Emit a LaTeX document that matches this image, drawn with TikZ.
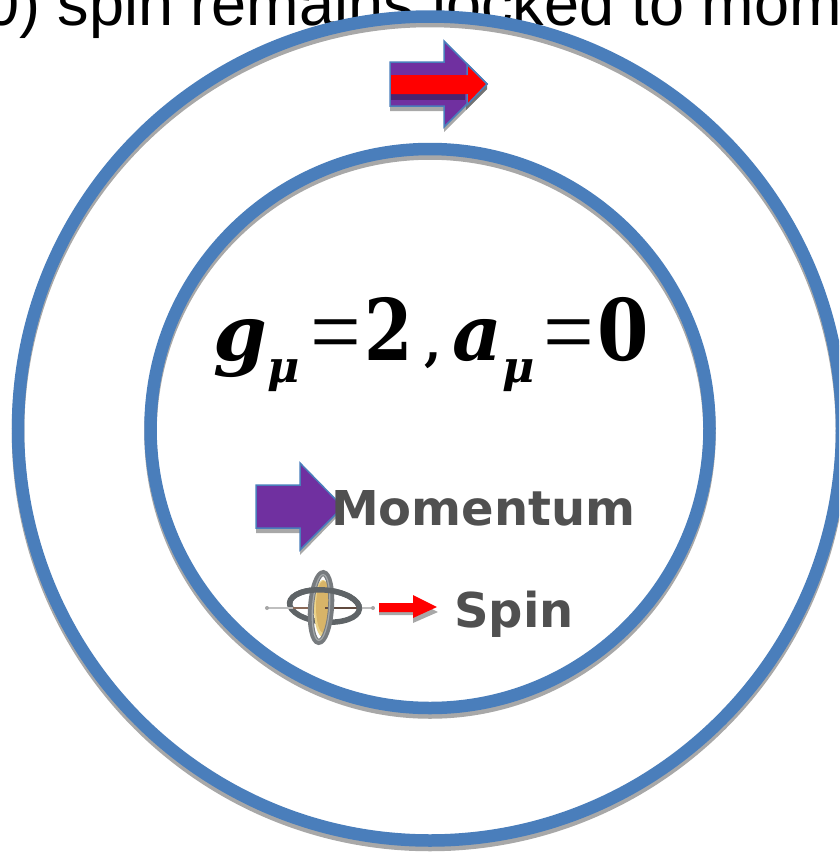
\documentclass[tikz,border=0pt]{standalone}
\usepackage{fontspec}
\setmainfont{Liberation Sans}
\newfontfamily\serifb{DejaVu Serif}[BoldFont={DejaVu Serif Bold},BoldItalicFont={DejaVu Serif Bold Italic}]
\newfontfamily\sansb{DejaVu Sans}
\newfontfamily\eqfont{Liberation Serif}
\definecolor{ringblue}{HTML}{4A7EBB}
\definecolor{shadowgray}{HTML}{A8A8A8}
\definecolor{arrowpurple}{HTML}{7030A0}
\definecolor{darkpurple}{HTML}{4A2470}
\definecolor{labelgray}{HTML}{505050}
\definecolor{gimbal}{HTML}{5F6467}
\definecolor{gimballight}{HTML}{A4A8AA}
\definecolor{axlebrown}{HTML}{8A6A58}
\definecolor{discgold}{HTML}{D8B468}
\definecolor{discpale}{HTML}{EBD38A}
\tikzset{
  x=1pt,y=-1pt,
  ringline/.style={draw=ringblue,line width=12.5pt},
  ringshadow/.style={draw=shadowgray,line width=12.5pt},
  purplearrow/.style={fill=arrowpurple,draw=ringblue,line width=1.5pt,line join=miter},
  redarrow/.style={fill=red,draw=none},
  shadowfill/.style={fill=shadowgray,draw=none},
  labeltext/.style={font=\sansb\bfseries\fontsize{48}{48}\selectfont,text=labelgray,inner sep=0pt,anchor=base west},
  mathtext/.style={inner sep=0pt,anchor=base west,text=black},
  mathbig/.style={mathtext,font=\serifb\bfseries\itshape\fontsize{77}{77}\selectfont},
  mathsub/.style={mathtext,font=\serifb\bfseries\itshape\fontsize{44}{44}\selectfont},
  mathdigit/.style={mathtext,font=\serifb\bfseries\fontsize{85}{85}\selectfont},
  matheq/.style={mathtext,font=\eqfont\fontsize{77}{77}\selectfont}
}
\begin{document}
\begin{tikzpicture}
\useasboundingbox (0,0) rectangle (839,855);
\begin{scope}
\clip (0,0) rectangle (839,855);
\node[font=\fontsize{63}{63}\selectfont,inner sep=0pt,anchor=base west] (caption) at (-16,25) {0) spin remains locked to momentum};
\coordinate (center) at (430,428.5);
\draw[ringshadow] ([yshift=-4.5pt]center) circle[radius=412];
\draw[ringline] (center) circle[radius=412];
\draw[ringshadow] ([yshift=-4.5pt]center) circle[radius=279.5];
\draw[ringline] (center) circle[radius=279.5];
% top arrow
\fill[shadowfill] (390,67) -- (444,67) -- (444,46) -- (487,89) -- (444,132) -- (444,111) -- (390,111) -- cycle;
\draw[purplearrow] (390,62) -- (444,62) -- (444,41) -- (487,84) -- (444,127) -- (444,106) -- (390,106) -- cycle;
\fill[darkpurple] (391,94) -- (465,94) -- (465,100) -- (391,100) -- cycle;
\fill[black!55] (466,105) -- (487,85) -- (487,89) -- (466,110) -- cycle;
\fill[redarrow] (391,75) -- (467,75) -- (467,64) -- (487,84) -- (467,105) -- (467,94) -- (391,94) -- cycle;
\draw[draw=ringblue,line width=1.5pt] (467,75) -- (467,64) -- (487,84) -- (467,105) -- (467,94);
% momentum arrow
\fill[shadowfill] (256,490) -- (300,490) -- (300,468) -- (343,511) -- (300,555) -- (300,533) -- (256,533) -- cycle;
\draw[purplearrow] (256,485) -- (300,485) -- (300,463) -- (343,507) -- (300,550) -- (300,528) -- (256,528) -- cycle;
% gyroscope
\draw[gimbal,line width=5.5pt,rotate around={-5:(324.5,606)}] (324.5,606) ellipse[x radius=35,y radius=16];
\draw[black!25,line width=1.5pt] (267,608) -- (373,608);
\fill[black!35] (267,608) circle[radius=2];
\fill[black!35] (373,608) circle[radius=2];
\draw[axlebrown,line width=2pt] (293,608) -- (310,608);
\fill[discpale] (323,608.5) ellipse[x radius=9,y radius=28.5];
\fill[discgold] (323.5,607) ellipse[x radius=7.5,y radius=26];
\draw[axlebrown!70!black,line width=2pt] (325,608) -- (358,608);
\begin{scope}[rotate around={-4:(321,607.5)}]
\draw[gimbal!85!white,line width=6pt] (321,607.5) ellipse[x radius=10,y radius=34.5];
\draw[gimballight,line width=1.2pt] (321,607.5) ellipse[x radius=8.5,y radius=33];
\end{scope}
\draw[gimbal,line width=5.5pt,rotate around={-5:(324.5,606)}] (289.5,606) arc[start angle=180,end angle=360,x radius=35,y radius=16];
% spin arrow
\fill[shadowfill] (379,608) -- (413,608) -- (413,600) -- (438,612) -- (413,623) -- (413,615) -- (379,615) -- cycle;
\fill[redarrow] (379,603) -- (413,603) -- (413,595) -- (437,607) -- (413,618) -- (413,612) -- (379,612) -- cycle;
\node[labeltext] (momentum) at (331,525) {Momentum};
\node[labeltext] (spin) at (454,627) {Spin};
% formula
\node[mathbig] (gsym) at (213,360) {g};
\node[mathsub] (gsub) at (267,382) {μ};
\node[matheq] (eqa) at (310,365) {\scalebox{1.17}[1.3]{=}};
\node[mathdigit] (two) at (364,360) {\scalebox{.82}[1]{2}};
\node[mathtext,font=\serifb\bfseries\fontsize{50}{50}\selectfont] (comma) at (424,360) {,};
\node[mathbig] (asym) at (452,360) {a};
\node[mathsub] (asub) at (502,382) {μ};
\node[matheq] (eqb) at (543,365) {\scalebox{1.17}[1.3]{=}};
\node[mathdigit] (zero) at (597,360) {\scalebox{.87}[1]{0}};
\end{scope}
\end{tikzpicture}
\end{document}
